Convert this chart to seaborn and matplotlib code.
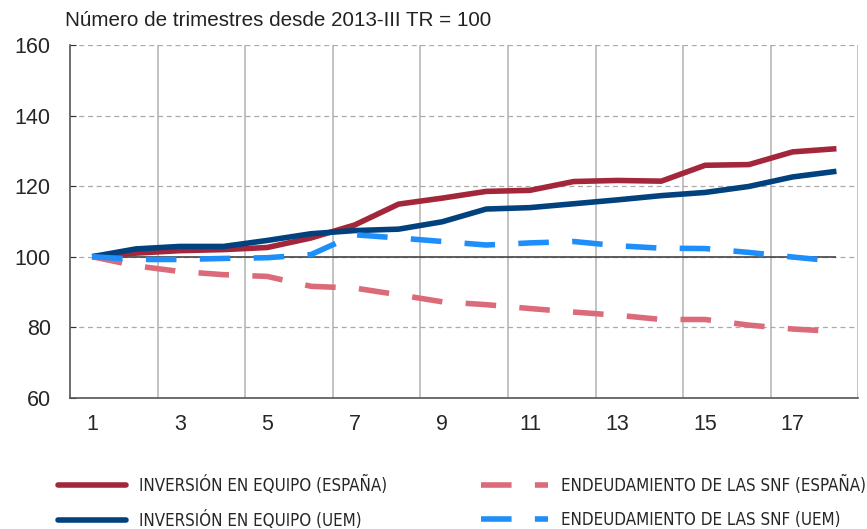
import numpy as np
import pandas as pd
import seaborn as sns
import matplotlib.pyplot as plt
from matplotlib.ticker import FixedLocator
from matplotlib import font_manager

# trimestres desde 2013-III (base 100)
quarters = list(range(1, 19))
inv_es = [100, 101.0, 101.7, 102.0, 102.6, 105.3, 109.0, 114.9, 116.6, 118.5,
          118.8, 121.3, 121.6, 121.4, 125.9, 126.1, 129.7, 130.6]
inv_uem = [100, 102.2, 102.9, 102.9, 104.6, 106.5, 107.4, 107.8, 109.9, 113.5,
           113.9, 115.0, 116.1, 117.3, 118.2, 119.9, 122.6, 124.2]
deu_es = [100, 97.4, 95.8, 94.9, 94.4, 91.6, 91.1, 89.2, 87.2, 86.4,
          85.3, 84.3, 83.4, 82.2, 82.2, 80.6, 79.5, 78.8]
deu_uem = [100, 99.2, 99.2, 99.5, 99.7, 100.6, 106.2, 105.3, 104.3, 103.3,
           103.9, 104.3, 103.1, 102.4, 102.3, 101.2, 99.9, 98.7]

labels = ['INVERSIÓN EN EQUIPO (ESPAÑA)', 'INVERSIÓN EN EQUIPO (UEM)',
          'ENDEUDAMIENTO DE LAS SNF (ESPAÑA)', 'ENDEUDAMIENTO DE LAS SNF (UEM)']
colors = ['#a3263a', '#00417e', '#db6b79', '#1e8ffa']
xticks = list(range(1, 18, 2))
yticks = [60, 80, 100, 120, 140, 160]

df = pd.DataFrame({
    'trimestre': quarters * 4,
    'valor': inv_es + inv_uem + deu_es + deu_uem,
    'serie': np.repeat(labels, len(quarters)),
})

sns.set_style('white')
plt.rcParams['font.family'] = ['Liberation Sans', 'DejaVu Sans']

fig = plt.figure(figsize=(8.67, 5.29), dpi=100)
ax = fig.add_axes([0.081, 0.248, 0.909, 0.667])

ax.set_xlim(0.5, 18.5)
ax.set_ylim(60, 160)

# rejilla
ax.set_yticks(yticks)
ax.yaxis.grid(True, linestyle=(0, (4, 3)), color='#aaaaaa', linewidth=0.9)
ax.xaxis.set_minor_locator(FixedLocator(np.arange(2.5, 19, 2)))
ax.xaxis.grid(True, which='minor', color='#b8b8b8', linewidth=1.2)
ax.set_axisbelow(True)
ax.hlines(100, quarters[0], quarters[-1], color='#444444', linewidth=1.2, zorder=1.5)

sns.lineplot(data=df, x='trimestre', y='valor', hue='serie', style='serie',
             hue_order=labels, style_order=labels,
             palette=dict(zip(labels, colors)),
             dashes={labels[0]: '', labels[1]: '', labels[2]: (5.5, 4.2), labels[3]: (5.5, 4.2)},
             linewidth=4, ax=ax, zorder=3)
for ln in ax.get_lines():
    ln.set_dash_capstyle('butt')
    ln.set_solid_capstyle('butt')

ax.set_xticks(xticks)
ax.set_xlabel('')
ax.set_ylabel('')
ax.tick_params(axis='x', which='major', length=0, pad=12, labelsize=15.5)
ax.tick_params(axis='x', which='minor', direction='in', length=4, color='#333333')
ax.tick_params(axis='y', direction='in', length=4, pad=14, labelsize=15.5, color='#333333', left=True)

for s in ['top', 'right']:
    ax.spines[s].set_visible(False)
for s in ['left', 'bottom']:
    ax.spines[s].set_color('#555555')
    ax.spines[s].set_linewidth(1.2)

fig.text(0.075, 0.962, 'Número de trimestres desde 2013-III TR = 100', fontsize=14.9,
         va='center', ha='left', color='#222222')

leg_font = font_manager.FontProperties(family='DejaVu Sans', stretch='condensed', size=12.2)
sns.move_legend(ax, 'upper left', bbox_to_anchor=(-0.015, -0.222), ncol=2, frameon=False,
                title=None, handlelength=4.0, handletextpad=0.77, columnspacing=5.5,
                labelspacing=0.95, borderaxespad=0, borderpad=0, prop=leg_font)

fig.savefig('out.png', dpi=100)
